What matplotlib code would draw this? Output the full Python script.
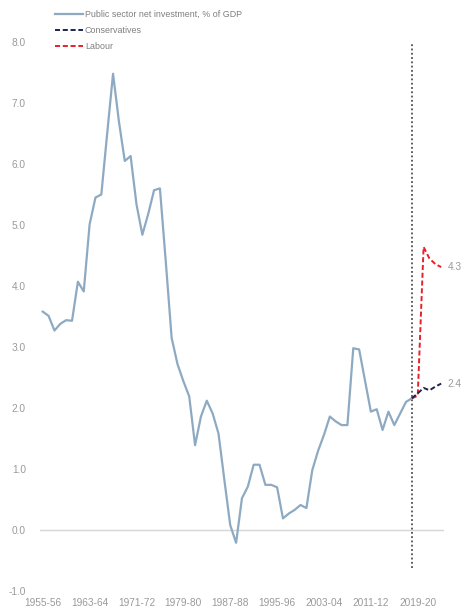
import matplotlib
matplotlib.use("Agg")
import matplotlib.pyplot as plt

plt.rcParams['font.family'] = ['Liberation Sans', 'DejaVu Sans']

# ---- data ----
start_year = 1955
psni = [3.58, 3.51, 3.27, 3.38, 3.44, 3.43, 4.07, 3.91, 5.01, 5.45,
        5.50, 6.50, 7.48, 6.70, 6.05, 6.13, 5.34, 4.84, 5.18, 5.57,
        5.60, 4.40, 3.15, 2.72, 2.44, 2.19, 1.39, 1.86, 2.12, 1.91,
        1.58, 0.82, 0.08, -0.21, 0.52, 0.71, 1.07, 1.07, 0.74, 0.74,
        0.70, 0.19, 0.27, 0.33, 0.41, 0.36, 0.98, 1.30, 1.56, 1.86,
        1.78, 1.72, 1.72, 2.98, 2.96, 2.45, 1.94, 1.98, 1.64, 1.94,
        1.72, 1.91, 2.10, 2.16]
proj_start_year = 2018
conservatives = [2.16, 2.24, 2.33, 2.29, 2.35, 2.40]
labour = [2.16, 2.20, 4.64, 4.45, 4.36, 4.31]
divider_y = [-0.62, 8.1]
tick_labels = ["1955-56", "1963-64", "1971-72", "1979-80", "1987-88",
               "1995-96", "2003-04", "2011-12", "2019-20"]
y_ticks = [-1.0, 0.0, 1.0, 2.0, 3.0, 4.0, 5.0, 6.0, 7.0, 8.0]

x_hist = list(range(len(psni)))
off = proj_start_year - start_year
x_proj = [off + k for k in range(len(conservatives))]
tick_pos = [int(t[:4]) - start_year for t in tick_labels]

fig = plt.figure(figsize=(4.62, 6.09), dpi=100)
ax = fig.add_axes([39.8 / 462, 18 / 609, (444.1 - 39.8) / 462, (591 - 42) / 609])

grey = '#9a9a9a'
ax.axhline(0, color='#d6d6d6', lw=1.0, zorder=1)
l1, = ax.plot(x_hist, psni, color='#8eaac2', lw=1.6, zorder=3,
              solid_joinstyle='round',
              label='Public sector net investment, % of GDP')
l3, = ax.plot(x_proj, labour, color='#e8202a', lw=1.4, ls=(0, (2.6, 1.4)),
              zorder=4, label='Labour')
l2, = ax.plot(x_proj, conservatives, color='#1b2550', lw=1.4,
              ls=(0, (2.6, 1.4)), zorder=5, label='Conservatives')
ax.plot([off, off], divider_y, color='#333333', lw=1.1, ls=(0, (1.2, 1.6)),
        zorder=2)

for series in (conservatives, labour):
    ax.annotate(f"{series[-1]:.1f}", xy=(x_proj[-1], series[-1]),
                xytext=(4.5, 0), textcoords='offset points',
                ha='left', va='center', fontsize=7.3, color=grey,
                annotation_clip=False)

ax.set_xlim(-0.5, 68.5)
ax.set_ylim(-1.0, 8.0)
ax.set_yticks(y_ticks)
ax.set_yticklabels([f"{v:.1f}" for v in y_ticks])
ax.set_xticks(tick_pos)
ax.set_xticklabels(tick_labels)
ax.tick_params(axis='both', length=0, labelsize=7.3, labelcolor=grey)
ax.tick_params(axis='y', pad=10)
ax.tick_params(axis='x', pad=5)
for s in ax.spines.values():
    s.set_visible(False)

fig.legend(handles=[l1, l2, l3], loc='upper left',
           bbox_to_anchor=(55 / 462, 1 - 10 / 609), frameon=False,
           fontsize=6.4, labelcolor='#7f7f7f', handlelength=3.2,
           handletextpad=0.15, labelspacing=0.78, borderpad=0,
           borderaxespad=0)

fig.savefig('out.png', dpi=100)
